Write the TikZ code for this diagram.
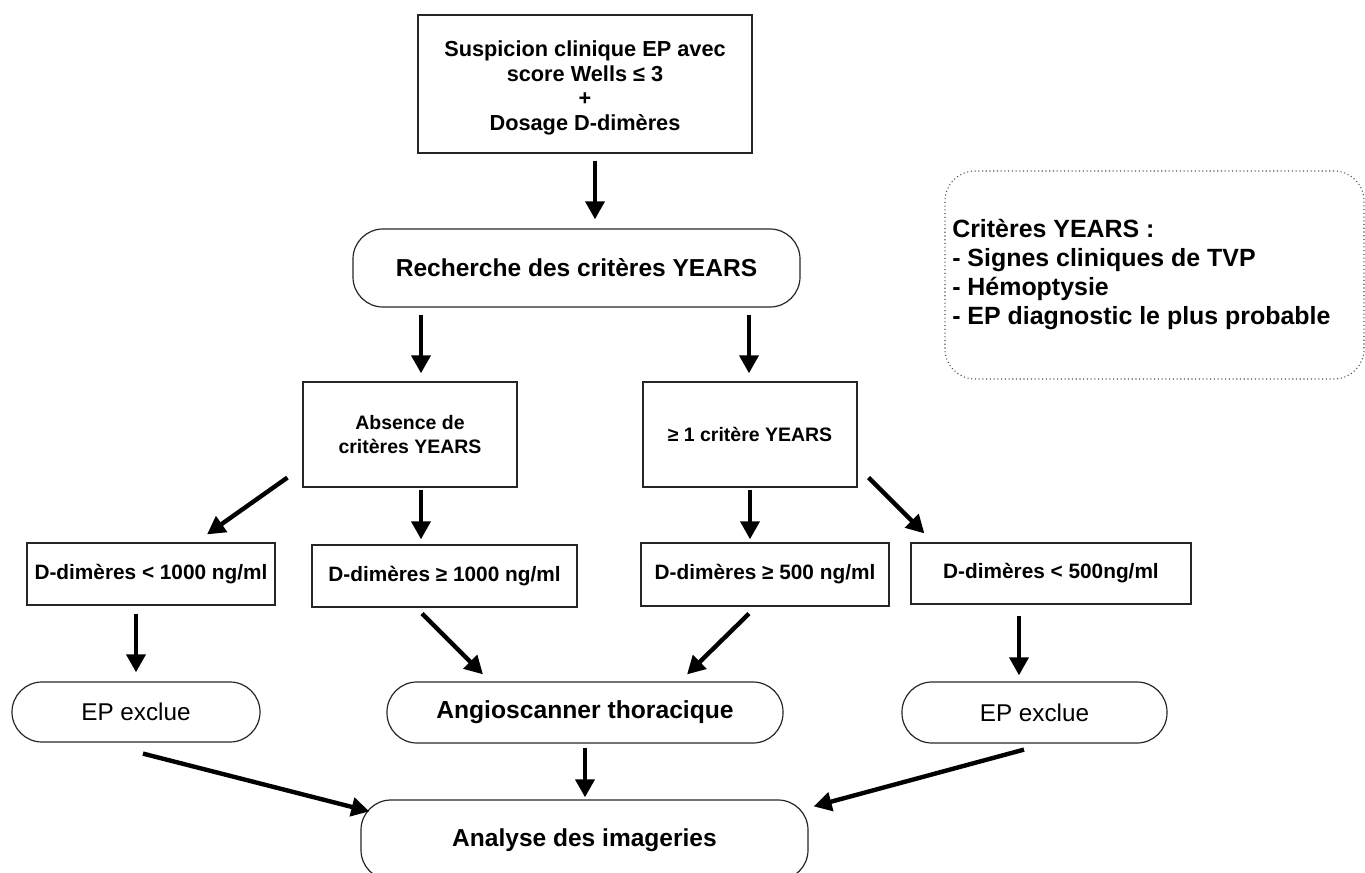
\documentclass[tikz,border=0pt]{standalone}
\usepackage{fontspec}
\setmainfont{Liberation Sans}
\usetikzlibrary{arrows.meta,calc}

\tikzset{
  box/.style={draw=black!85, line width=0.9pt, rectangle, inner sep=0pt, align=center},
  pill/.style={box, rounded corners=22.5pt},
  arr/.style={line width=3.3pt, -{Triangle[length=13.5pt,width=14pt]}},
  sz/.style 2 args={font=\bfseries\fontsize{#1}{#2}\selectfont},
}

\begin{document}
\begin{tikzpicture}[x=0.75pt, y=-0.75pt]
\useasboundingbox (0,0) rectangle (1365,872);

% boxes
\node[box, minimum width=250.5pt, minimum height=103.5pt] (top) at (585,84) {};
\node[sz={16.3pt}{18.4pt}, align=center, inner sep=0pt] (toptxt) at (585,88)
  {Suspicion clinique EP avec\\score Wells ≤ 3\\+\\Dosage D-dimères};
\node[pill, sz={18.4pt}{22pt}, minimum width=335.25pt, minimum height=58.5pt] (rech) at (576.5,268)
  {Recherche des critères YEARS};

\node[box, sz={14.6pt}{18pt}, minimum width=160.5pt, minimum height=78.75pt] (abs) at (410,434.5)
  {Absence de\\critères YEARS};
\node[box, sz={14.6pt}{18pt}, minimum width=160.5pt, minimum height=78.75pt] (crit) at (750,434.5)
  {≥ 1 critère YEARS};

\node[box, sz={15.6pt}{18pt}, minimum width=186pt, minimum height=46.5pt] (dlt1000) at (151,574)
  {D-dimères < 1000 ng/ml};
\node[box, sz={15.6pt}{18pt}, minimum width=198.75pt, minimum height=46.5pt] (dge1000) at (444.5,576)
  {D-dimères ≥ 1000 ng/ml};
\node[box, sz={15.6pt}{18pt}, minimum width=186pt, minimum height=47.25pt] (dge500) at (765,574.5)
  {D-dimères ≥ 500 ng/ml};
\node[box, sz={15.6pt}{18pt}, minimum width=210pt, minimum height=45.75pt] (dlt500) at (1051,573.5)
  {D-dimères < 500ng/ml};

\node[pill, font=\fontsize{18.2pt}{20pt}\selectfont, minimum width=186pt, minimum height=45pt] (ep1) at (136,712)
  {EP exclue};
\node[pill, sz={18.5pt}{22pt}, minimum width=297pt, minimum height=45.75pt] (angio) at (585,712.5)
  {Angioscanner thoracique};
\node[pill, font=\fontsize{18.2pt}{20pt}\selectfont, minimum width=198.75pt, minimum height=45.75pt] (ep2) at (1034.5,712.5)
  {EP exclue};
\node[pill, sz={18.4pt}{22pt}, minimum width=335.25pt, minimum height=60pt] (ana) at (584.5,840)
  {Analyse des imageries};

% criteria legend
\node[draw=black!70, line width=0.8pt, dotted, rounded corners=22.5pt, inner sep=0pt,
      minimum width=314.25pt, minimum height=156pt] (years) at (1154.5,275) {};
\node[anchor=west, inner sep=0pt, align=left, sz={18.7pt}{21.75pt}] (yearstxt) at (952,274)
  {Critères YEARS :\\- Signes cliniques de TVP\\- Hémoptysie\\- EP diagnostic le plus probable};

% connectors
\draw[arr] ($(top.south)+(10,7)$) -- ($(rech.north)+(18.5,-9)$);
\draw[arr] ($(rech.south)+(-155.5,7)$) -- ($(abs.north)+(11,-8)$);
\draw[arr] ($(rech.south)+(172.5,7)$) -- ($(crit.north)+(-1,-8)$);

\draw[arr] ($(abs.south west)+(-15,-10)$) -- ($(dlt1000.north)+(56,-8)$);
\draw[arr] ($(abs.south)+(11,2)$) -- ($(dge1000.north)+(-23.5,-5)$);
\draw[arr] ($(crit.south)+(0,2)$) -- ($(dge500.north)+(-15,-3)$);
\draw[arr] ($(crit.south east)+(11,-10)$) -- ($(dlt500.north west)+(14,-9)$);

\draw[arr] ($(dlt1000.south)+(-15,8)$) -- ($(ep1.north)+(0,-9)$);
\draw[arr] ($(dge1000.south)+(-22.5,6)$) -- ($(angio.north)+(-102,-7)$);
\draw[arr] ($(dge500.south)+(-16,7)$) -- ($(angio.north)+(102,-7)$);
\draw[arr] ($(dlt500.south)+(-32,11)$) -- ($(ep2.north)+(-15.5,-6)$);

\draw[arr] ($(ep1.south)+(7,11)$) -- ($(ana.north west)+(9,12)$);
\draw[arr] ($(angio.south)+(0,4)$) -- ($(ana.north)+(0.5,-2)$);
\draw[arr] ($(ep2.south)+(-10.5,6)$) -- ($(ana.north east)+(5,7)$);
\end{tikzpicture}
\end{document}
